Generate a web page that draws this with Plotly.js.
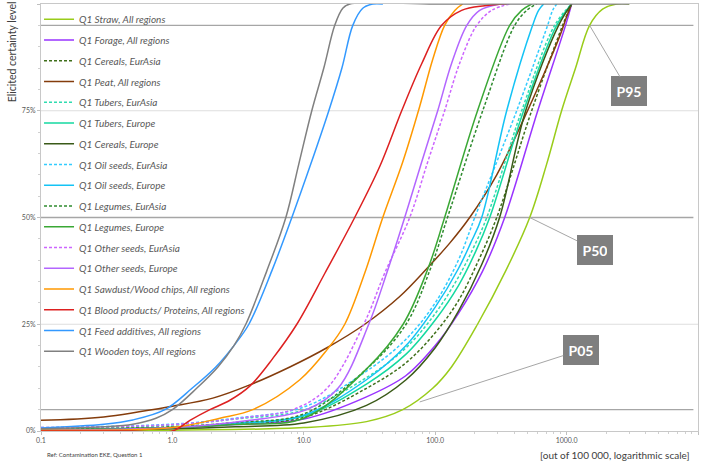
<!DOCTYPE html>
<html><head><meta charset="utf-8">
<script src="https://cdn.plot.ly/plotly-3.0.1.min.js"></script>
<style>html,body{margin:0;padding:0;background:#fff}#chart{width:709px;height:462px}</style>
</head><body><div id="chart"></div>
<script>
// ---- series names (legend order) ----
const seriesNames = [
  'Q1 Straw, All regions','Q1 Forage, All regions','Q1 Cereals, EurAsia','Q1 Peat, All regions',
  'Q1 Tubers, EurAsia','Q1 Tubers, Europe','Q1 Cereals, Europe','Q1 Oil seeds, EurAsia',
  'Q1 Oil seeds, Europe','Q1 Legumes, EurAsia','Q1 Legumes, Europe','Q1 Other seeds, EurAsia',
  'Q1 Other seeds, Europe','Q1 Sawdust/Wood chips, All regions','Q1 Blood products/ Proteins, All regions',
  'Q1 Feed additives, All regions','Q1 Wooden toys, All regions'
];
// ---- data: x = contamination (out of 100 000), y = elicited certainty level (%) ----
const strawX = [0.1, 1, 10, 30, 56.6, 95.7, 133, 210, 344, 524, 705, 916, 1170, 1496, 1879, 2400, 3000];
const strawY = [0, 0.2, 0.8, 2.2, 5, 10, 15, 25, 37.5, 50, 62.5, 75, 85, 95, 98.8, 100, 100];
const forageX = [0.1, 1, 3, 10, 30, 60, 100, 150, 230, 338, 603, 982, 1092];
const forageY = [0.3, 0.7, 1.5, 2.8, 8, 13, 20, 27.5, 37.5, 50, 75, 95, 100];
const cerealsEAX = [0.1, 1, 3, 10, 30, 60, 100, 150, 214, 294, 542, 933, 1092];
const cerealsEAY = [0.3, 0.8, 1.7, 3.2, 10, 16, 23, 30.5, 40, 50, 75, 95, 100];
const peatX = [0.1, 0.3, 1, 2.03, 3.88, 7.83, 15, 29.1, 53.7, 86.1, 129, 183, 294, 455, 681, 900, 1000, 1092];
const peatY = [2.5, 3.3, 5.8, 7.7, 10.8, 15, 19.5, 25, 31.5, 38, 44, 50, 60, 72, 84, 93, 97, 100];
const tubersEAX = [0.1, 1, 3, 10, 30, 60, 100, 150, 196, 247, 455, 811, 1092];
const tubersEAY = [0.6, 1.4, 2.8, 4.9, 12.5, 19.5, 27.5, 36, 43, 50, 75, 95, 100];
const tubersEUX = [0.1, 1, 3, 10, 30, 60, 100, 150, 203, 260, 471, 840, 1092];
const tubersEUY = [0.3, 0.8, 1.8, 3.5, 11, 18, 26, 34, 42, 50, 75, 95, 100];
const cerealsEUX = [0.1, 1, 3, 10, 30, 60, 100, 150, 226, 309, 488, 869, 1092];
const cerealsEUY = [0.2, 0.5, 1.0, 1.9, 6, 12, 19.5, 28, 39, 50, 75, 95, 100];
const oilEAX = [0.1, 1, 3, 10, 30, 60, 100, 150, 200, 417, 717, 783, 840];
const oilEAY = [0.8, 1.6, 3.0, 5.6, 14, 21.5, 30, 40, 50, 75, 95, 98.5, 100];
const oilEUX = [0.1, 1, 3, 10, 30, 60, 100, 150, 186, 226, 350, 551, 612, 669];
const oilEUY = [0.3, 0.8, 1.8, 3.7, 12, 20, 29, 38, 44, 50, 75, 95, 98.5, 100];
const legumesEAX = [0.1, 1, 3, 10, 30, 60, 92, 124, 230, 403, 497, 591];
const legumesEAY = [0.4, 1.0, 2.0, 4.0, 14.5, 25, 38, 50, 75, 95, 98.5, 100];
const legumesEUX = [0.1, 1, 3, 10, 30, 57, 88, 118, 210, 369, 455, 542];
const legumesEUY = [0.3, 0.8, 1.5, 3.0, 14.5, 25, 38, 50, 75, 95, 98.5, 100];
const otherEAX = [0.1, 1, 3.9, 8.25, 15, 28.6, 41.3, 64, 87.7, 118, 153, 207, 269, 369];
const otherEAY = [0.8, 1.5, 3.3, 5, 10, 25, 37, 50, 63, 75, 86, 95, 98.5, 100];
const otherEUX = [0.1, 1, 3.9, 10.5, 18.2, 31.2, 42.8, 58.6, 78.9, 104.5, 133, 174, 218, 309];
const otherEUY = [0.2, 0.8, 2.5, 5, 10, 25, 37, 50, 63, 75, 86, 95, 98.5, 100];
const sawdustX = [0.1, 1, 2.3, 4.09, 9.33, 15, 20.5, 29.1, 39.9, 56.6, 76.2, 95.7, 118, 141, 162];
const sawdustY = [0.2, 0.8, 3.0, 5, 12, 19, 25, 37, 50, 63, 76, 87, 95, 98.5, 100];
const bloodX = [0.1, 0.5, 1.0, 1.36, 1.93, 2.74, 3.88, 5.81, 8.85, 14.5, 24.4, 37.9, 55.6, 78.9, 112, 159, 238, 350];
const bloodY = [0, 0, 0, 2.5, 5, 7.2, 10.5, 17, 25, 37, 50, 62, 75, 86, 95, 98.5, 99.6, 100];
const feedX = [0.1, 0.3, 0.5, 0.877, 1.41, 2.14, 2.94, 3.82, 5.71, 8.11, 11.3, 15.5, 19.5, 23.6, 28.1, 33.5, 40];
const feedY = [0.7, 1.6, 2.6, 5, 10, 15, 20, 25, 37.5, 50, 62.5, 75, 85, 95, 99, 100, 100];
const toysX = [0.1, 0.3, 0.5, 0.75, 1.0, 1.53, 2.22, 2.94, 3.62, 5.23, 7.3, 9.16, 11.5, 14.2, 17.2, 19.8, 22.4, 100, 1000, 3000];
const toysY = [0.5, 1.0, 1.6, 3.0, 5.0, 10, 15, 20, 25, 37.5, 50, 62.5, 75, 85, 95, 99, 100, 100, 100, 100];

const xTickVals = [0.1, 1, 10, 100, 1000, 10000];
const xTickText = ['0.1', '1.0', '10.0', '100.0', '1000.0', '10000.0'];
const yTickVals = [0, 25, 50, 75, 100];
const yTickText = ['0%', '25%', '50%', '75%', '100%'];
const gridLevels = [25, 75];
const refLevels = [5, 50, 95];
const refLabels = ['P05', 'P50', 'P95'];

// ---- styles ----
const seriesX = [strawX, forageX, cerealsEAX, peatX, tubersEAX, tubersEUX, cerealsEUX, oilEAX, oilEUX, legumesEAX, legumesEUX, otherEAX, otherEUX, sawdustX, bloodX, feedX, toysX];
const seriesY = [strawY, forageY, cerealsEAY, peatY, tubersEAY, tubersEUY, cerealsEUY, oilEAY, oilEUY, legumesEAY, legumesEUY, otherEAY, otherEUY, sawdustY, bloodY, feedY, toysY];
const colors = ['#99cc1a', '#9933ff', '#3f6f1a', '#843c0c', '#2fdcb0', '#14d9a0', '#3a5a18', '#33ccff', '#14c3f5', '#2e8b2e', '#3aa835', '#cc66ff', '#b366ff', '#ff9900', '#dd2020', '#3399ff', '#808080'];
const dashes = ['solid', 'solid', '3px,2px', 'solid', '3px,2px', 'solid', 'solid', '3px,2px', 'solid', '3px,2px', 'solid', '3px,2px', 'solid', 'solid', 'solid', 'solid', 'solid'];

const traces = seriesNames.map((n, i) => ({
  type: 'scatter', mode: 'lines', name: n, legendgroup: 'g' + i,
  x: seriesX[i], y: seriesY[i],
  line: {color: colors[i], width: 1.5, dash: dashes[i], shape: 'spline', smoothing: 1.0},
  hoverinfo: 'skip'
}));

const minorX = [];
for (let e = -1; e < 4; e++) for (let k = 2; k <= 9; k++) minorX.push(k * Math.pow(10, e));

const shapes = gridLevels.map(v => ({
  type: 'line', xref: 'paper', yref: 'y', x0: 0, x1: 1, y0: v, y1: v,
  line: {color: '#dedede', width: 1}, layer: 'below'
})).concat(refLevels.map(v => ({
  type: 'line', xref: 'paper', yref: 'y', x0: 0, x1: 0.993, y0: v, y1: v,
  line: {color: '#a6a6a6', width: 1.4}, layer: 'below'
})));

// label anchor points on the straw curve (x, y) and label offsets
const labelPointX = [76.2, 524, 1496];
const labelPointY = [6.8, 50, 95];
const labelAx = [161, 65, 39];
const labelAy = [-52, 32, 66];

const annotations = refLabels.map((t, i) => ({
  x: Math.log10(labelPointX[i]), y: labelPointY[i], xref: 'x', yref: 'y',
  text: t, showarrow: true, arrowhead: 0, arrowwidth: 1, arrowcolor: '#a6a6a6',
  ax: labelAx[i], ay: labelAy[i], standoff: 0,
  bgcolor: '#7f7f7f', bordercolor: '#7f7f7f', borderwidth: 1, borderpad: 5,
  width: 24, height: 18,
  font: {family: 'Lato, sans-serif', size: 14, color: '#ffffff', weight: 'bold'}
}));
annotations.push({
  xref: 'paper', yref: 'paper', x: -0.044, y: 1.01, xanchor: 'center', yanchor: 'top',
  text: 'Elicited certainty level', textangle: -90, showarrow: false,
  font: {family: 'Lato, sans-serif', size: 10.5, color: '#404040'}
});
annotations.push({
  xref: 'paper', yref: 'paper', x: 0.991, y: -0.056, xanchor: 'right', yanchor: 'middle',
  text: '[out of 100 000, logarithmic scale]', showarrow: false,
  font: {family: 'Lato, sans-serif', size: 10, color: '#404040'}
});
annotations.push({
  xref: 'paper', yref: 'paper', x: 0.006, y: -0.054, xanchor: 'left', yanchor: 'middle',
  text: 'Ref: Contamination EKE, Question 1', showarrow: false,
  font: {family: 'Lato, sans-serif', size: 6, color: '#404040'}
});

const layout = {
  width: 709, height: 462,
  margin: {l: 41, r: 11, t: 4, b: 31},
  paper_bgcolor: '#ffffff', plot_bgcolor: '#ffffff',
  showlegend: true,
  legend: {
    x: -0.003, y: 0.998, xanchor: 'left', yanchor: 'top',
    bgcolor: 'rgba(0,0,0,0)', borderwidth: 0,
    traceorder: 'grouped', tracegroupgap: 1.75,
    font: {family: 'Lato, sans-serif', size: 10, color: '#595959', style: 'italic'}
  },
  xaxis: {
    type: 'log', range: [-1, 4],
    tickmode: 'array', tickvals: xTickVals, ticktext: xTickText,
    ticks: 'outside', ticklen: 3, tickcolor: '#bfbfbf',
    minor: {tickmode: 'array', tickvals: minorX, ticks: 'outside', ticklen: 2, tickcolor: '#d0d0d0', showgrid: false},
    showgrid: false, zeroline: false,
    showline: true, linecolor: '#c8c8c8', linewidth: 1, mirror: true,
    tickfont: {family: 'Lato, sans-serif', size: 7, color: '#595959'}
  },
  yaxis: {
    range: [0, 100],
    tickmode: 'array', tickvals: yTickVals, ticktext: yTickText,
    ticks: 'outside', ticklen: 3, tickcolor: '#bfbfbf',
    minor: {dtick: 5, ticks: 'outside', ticklen: 2, tickcolor: '#d0d0d0', showgrid: false},
    showgrid: false, zeroline: false,
    showline: true, linecolor: '#c8c8c8', linewidth: 1, mirror: true,
    tickfont: {family: 'Lato, sans-serif', size: 7, color: '#595959'}
  },
  shapes: shapes,
  annotations: annotations
};

Plotly.newPlot('chart', traces, layout, {displayModeBar: false, staticPlot: true});
</script>
</body></html>
